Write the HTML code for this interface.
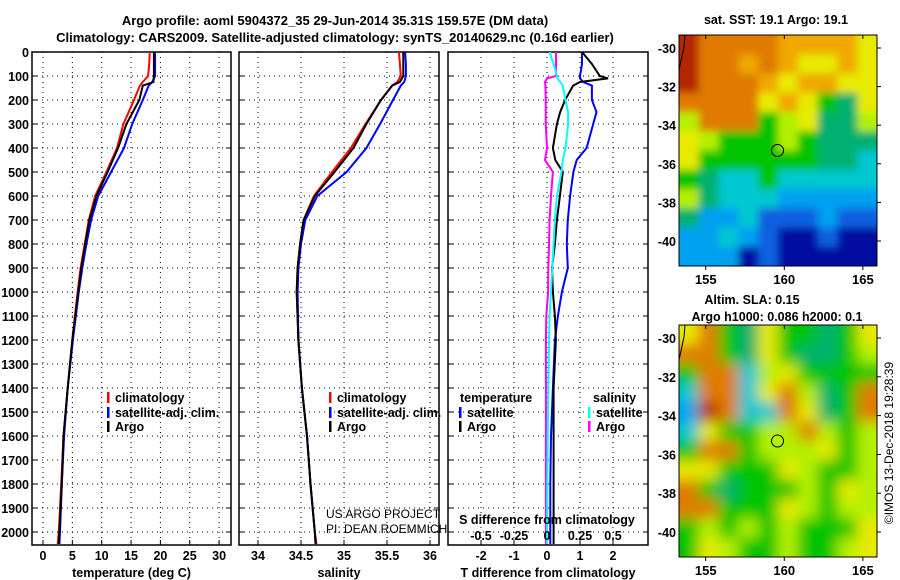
<!DOCTYPE html>
<html><head><meta charset="utf-8">
<style>
html,body{margin:0;padding:0;background:#fff;}
svg{display:block;font-family:"Liberation Sans",Arial,sans-serif;}
.t{font-weight:bold;font-size:13px;fill:#000;}
.s{font-weight:bold;font-size:12.5px;fill:#000;}
</style></head>
<body>
<svg id="fig" width="900" height="580" viewBox="0 0 900 580" xmlns="http://www.w3.org/2000/svg">
<defs>
<filter id="blurS" x="0" y="0" width="1" height="1"><feGaussianBlur stdDeviation="4"/></filter>
<filter id="blurL" x="0" y="0" width="1" height="1"><feGaussianBlur stdDeviation="7"/></filter>
<clipPath id="clipM1"><rect x="679" y="35" width="198" height="231"/></clipPath>
<clipPath id="clipM2"><rect x="679" y="325" width="198" height="232"/></clipPath>
</defs>
<text class="t" x="335" y="25" text-anchor="middle">Argo profile: aoml 5904372_35 29-Jun-2014 35.31S 159.57E (DM data)</text>
<text class="t" x="335" y="42" text-anchor="middle">Climatology: CARS2009. Satellite-adjusted climatology: synTS_20140629.nc (0.16d earlier)</text>
<g id="layer"></g>
</svg>
<script>
// ---------- data ----------
const depths = [0,50,100,125,140,200,300,400,500,600,700,800,900,1000,1200,1400,1600,1800,2000,2050];
const tempClim = [18.2,18.1,17.9,17.0,16.5,15.5,13.7,12.6,10.8,8.9,7.8,7.1,6.4,5.9,5.0,4.2,3.5,3.1,2.7,2.5];
const tempSat  = [19.1,19.1,19.1,18.6,18.0,17.0,15.2,13.8,11.6,9.4,8.2,7.4,6.7,6.1,5.1,4.2,3.6,3.2,2.9,2.8];
const tempArgo = [18.9,18.9,18.9,18.8,17.0,16.4,14.2,12.8,11.0,9.1,7.9,7.2,6.5,6.0,5.0,4.2,3.5,3.2,2.8,2.7];
const salClim = [35.64,35.65,35.66,35.62,35.56,35.43,35.25,35.08,34.86,34.65,34.53,34.49,34.46,34.45,34.47,34.51,34.57,34.61,34.66,34.68];
const salSat  = [35.71,35.72,35.72,35.70,35.66,35.57,35.42,35.26,35.03,34.69,34.55,34.50,34.47,34.46,34.47,34.51,34.57,34.61,34.66,34.67];
const salArgo = [35.69,35.69,35.69,35.65,35.56,35.43,35.26,35.11,34.89,34.66,34.53,34.49,34.46,34.45,34.47,34.51,34.57,34.61,34.66,34.67];
const diffDepths = [0,50,100,110,125,140,200,250,300,400,450,500,600,700,800,900,1000,1100,1200,1400,1600,1800,2000,2050];
const dTArgo = [1.06,1.36,1.6,1.85,1.0,0.79,0.55,0.4,0.3,0.18,0.25,0.48,0.39,0.3,0.24,0.15,0.18,0.24,0.27,0.2,0.2,0.2,0.2,0.2];
const dTSat  = [1.06,1.06,1.0,1.0,1.1,1.36,1.36,1.5,1.4,1.2,0.9,0.8,0.7,0.63,0.6,0.63,0.45,0.33,0.24,0.18,0.12,0.1,0.1,0.1];
const dSArgo = [0.068,0.068,0.068,0.0,-0.015,-0.012,-0.01,-0.01,-0.01,0.0,-0.015,0.045,0.03,0.02,0.015,0.01,0.008,-0.005,-0.008,-0.008,-0.008,-0.008,-0.008,-0.008];
const dSCyan = [0.02,0.05,0.075,0.08,0.1,0.12,0.14,0.16,0.16,0.14,0.12,0.11,0.075,0.06,0.05,0.04,0.03,0.02,0.015,0.01,0.005,0.002,0.0,0.0];
const depthTicks = [0,100,200,300,400,500,600,700,800,900,1000,1100,1200,1300,1400,1500,1600,1700,1800,1900,2000];
const tempTicks = [0,5,10,15,20,25,30];
const salTicks = [34,34.5,35,35.5,36];
const dTTicks = [-2,-1,0,1,2];
const dSTicks = [-0.5,-0.25,0,0.25,0.5];
const lonTicks = [155,160,165];
const latTicks = [-30,-32,-34,-36,-38,-40];
const argoLon = 159.57, argoLat = -35.31;
const sstGrid = [
"ROOOOooooY","ROOoOoYYoY","ROOOoYooYY","OOOOYoYGgY","yOOOGyYggy","YyGGGyGggg",
"YGGGGGGggC","GgCCGCCCCC","ygCCCBBBBB","gBBCbbbBbb","BBCBbNNbNN","BBBNbNNNNN"];
const slaGrid = [
"YOGgYGGgGY","OOGgYGggGy","GOOCyYGGGG","COOCYOygGO","BROCCOYgGO","CYGGyyOyGy",
"GOOGyyyYGy","YYGGGYyGGy","OGgGGGyGYy","OOGGGYyGyy","GyGyGyGGGY","GYyGGyGGyY"];

// ---------- helpers ----------
const NS="http://www.w3.org/2000/svg";
const layer=document.getElementById('layer');
function mk(tag,attrs,parent){const e=document.createElementNS(NS,tag);for(const k in attrs)e.setAttribute(k,attrs[k]);(parent||layer).appendChild(e);return e;}
function txt(x,y,s,cls,anchor,parent){const e=mk('text',{x:x,y:y,class:cls||'s','text-anchor':anchor||'middle'},parent);e.textContent=s;return e;}
const yD = d => 52 + d*0.24;

function panel(name,x0,x1,xs,xticks,xlabs,xtitle){
  const g=mk('g',{});
  
  
  mk('rect',{x:x0,y:52,width:x1-x0,height:493,fill:'#fff',stroke:'#000','stroke-width':1.5},g);
  depthTicks.forEach(d=>{mk('line',{x1:x0,x2:x1,y1:yD(d),y2:yD(d),stroke:'#000','stroke-dasharray':'1,4','stroke-width':1},g);
    mk('line',{x1:x0,x2:x0+5,y1:yD(d),y2:yD(d),stroke:'#000'},g);mk('line',{x1:x1-5,x2:x1,y1:yD(d),y2:yD(d),stroke:'#000'},g);});
  xticks.forEach((v,i)=>{const x=xs(v);mk('line',{x1:x,x2:x,y1:52,y2:545,stroke:'#000','stroke-dasharray':'1,4'},g);
    mk('line',{x1:x,x2:x,y1:545,y2:540,stroke:'#000'},g);
    const t=txt(x,560,xlabs[i],'s','middle',g);
    
    });
  const tt=txt((x0+x1)/2,577,xtitle,'s','middle',g);
  
  
  return g;
}
function line(g,xs,ds,vals,color,name,w){
  const pts=ds.map((d,i)=>xs(vals[i]).toFixed(1)+','+yD(d).toFixed(1)).join(' ');
  const p=mk('polyline',{points:pts,fill:'none',stroke:color,'stroke-width':w||2},g);
  
  
}
function legend(g,x,y,color,label,name){
  mk('rect',{x:x,y:y-10,width:2.5,height:11,fill:color},g);
  const t=txt(x+8,y,label,'s','start',g);
  
  
}

// depth axis labels
depthTicks.forEach(d=>{const t=txt(29,yD(d)+5,String(d),'s','end');
  
  });

// panel 1 temperature
const xT=v=>43+5.87*v;
const g1=panel('temperature-panel',32,231,xT,tempTicks,tempTicks.map(String),'temperature (deg C)');
line(g1,xT,depths,tempClim,'#f00','temp-climatology-line');
line(g1,xT,depths,tempSat,'#00f','temp-satellite-line');
line(g1,xT,depths,tempArgo,'#000','temp-argo-line');
legend(g1,107,402,'#f00','climatology','legend-climatology');
legend(g1,107,417,'#00f','satellite-adj. clim.','legend-satellite');
legend(g1,107,431,'#000','Argo','legend-argo');

// panel 2 salinity
const xS=v=>258+86*(v-34);
const g2=panel('salinity-panel',239,439,xS,salTicks,salTicks.map(String),'salinity');
line(g2,xS,depths,salClim,'#f00','sal-climatology-line');
line(g2,xS,depths,salSat,'#00f','sal-satellite-line');
line(g2,xS,depths,salArgo,'#000','sal-argo-line');
legend(g2,329,402,'#f00','climatology','legend-climatology-2');
legend(g2,329,417,'#00f','satellite-adj. clim.','legend-satellite-2');
legend(g2,329,431,'#000','Argo','legend-argo-2');
const c1=txt(326,518,'US ARGO PROJECT','s','start',g2);c1.setAttribute('style','font-weight:normal;font-size:12px');


const c2=txt(326,533,'PI: DEAN ROEMMICH','s','start',g2);c2.setAttribute('style','font-weight:normal;font-size:12px');



// panel 3 differences
const xDT=v=>547+33*v;
const xDS=v=>547+132*v;
const g3=panel('difference-panel',448,648,xDT,dTTicks,dTTicks.map(String),'T difference from climatology');
line(g3,xDS,diffDepths,dSArgo,'#f0f','sal-diff-argo-line');
line(g3,xDT,diffDepths,dTSat,'#00f','temp-diff-satellite-line');
line(g3,xDT,diffDepths,dTArgo,'#000','temp-diff-argo-line');
line(g3,xDS,diffDepths,dSCyan,'#0ff','sal-diff-satellite-line');
const lt=txt(460,402,'temperature','s','start',g3);
legend(g3,459,417,'#00f','satellite','legend-temp-satellite');
legend(g3,459,431,'#000','Argo','legend-temp-argo');
const ls=txt(593,402,'salinity','s','start',g3);
legend(g3,588,417,'#0ff','satellite','legend-sal-satellite');
legend(g3,588,431,'#f0f','Argo','legend-sal-argo');
const st=txt(547,524,'S difference from climatology','s','middle',g3);
dSTicks.forEach(v=>{const t=txt(xDS(v),540,String(v),'s','middle',g3);
  
  });

// ---------- maps ----------
const cmap={R:'#b42800',O:'#e07a00',o:'#f0a800',Y:'#e8ea00',y:'#b4f000',G:'#00c400',g:'#00b070',C:'#00c8d0',B:'#00a0f0',b:'#1060e0',N:'#0010a0'};
function map(name,y0,y1,grid,filt,clip,titles,latTop,latBot){
  const g=mk('g',{});
  
  
  const x0=679,x1=877,lonMin=153.3,lonMax=165.9;
  const lx=v=>x0+(v-lonMin)*(x1-x0)/(lonMax-lonMin);
  const lats=[latTop[0],latBot[0]],ys=[latTop[1],latBot[1]];
  const ly=v=>ys[0]+(v-lats[0])*(ys[1]-ys[0])/(lats[1]-lats[0]);
  const gc=mk('g',{'clip-path':'url(#'+clip+')'},g);
  const gi=mk('g',{filter:'url(#'+filt+')'},gc);
  mk('rect',{x:x0-20,y:y0-20,width:x1-x0+40,height:y1-y0+40,fill:cmap[grid[6][5]]},gi);
  const rows=grid.length,cols=grid[0].length,cw=(x1-x0)/cols,ch=(y1-y0)/rows;
  grid.forEach((r,i)=>{for(let j=0;j<cols;j++){mk('rect',{x:x0+j*cw-(j==0?20:0),y:y0+i*ch-(i==0?20:0),width:cw+(j==0||j==cols-1?20:0)+0.5,height:ch+(i==0||i==rows-1?20:0)+0.5,fill:cmap[r[j]]},gi);}});
  mk('polyline',{points:(x0)+','+(y0+35)+' '+(x0+5)+','+(y0+12)+' '+(x0+6)+','+y0,fill:'none',stroke:'#000','stroke-width':1},g);
  mk('rect',{x:x0,y:y0,width:x1-x0,height:y1-y0,fill:'none',stroke:'#000','stroke-width':1},g);
  lonTicks.forEach(v=>{mk('line',{x1:lx(v),x2:lx(v),y1:y0,y2:y0+4,stroke:'#000'},g);mk('line',{x1:lx(v),x2:lx(v),y1:y1,y2:y1+4,stroke:'#000'},g);
    const t=txt(lx(v),y1+18,String(v),'t','middle',g);});
  latTicks.forEach(v=>{mk('line',{x1:x1,x2:x1+4,y1:ly(v),y2:ly(v),stroke:'#000'},g);
    const t=txt(x0-3,ly(v)+5,String(v),'s','end',g);});
  const m=mk('circle',{cx:lx(argoLon),cy:ly(argoLat),r:6,fill:'none',stroke:'#000','stroke-width':1},g);
  
  
  titles.forEach(t=>{const e=txt(t[0],t[1],t[2],'s','middle',g);});
}
map('sst-map',35,266,sstGrid,'blurS','clipM1',[[776,24,'sat. SST: 19.1 Argo: 19.1','sst-map-title']],[-30,48],[-40,241]);
map('sla-map',325,557,slaGrid,'blurL','clipM2',[[752,304,'Altim. SLA: 0.15','sla-map-title'],[777,321,'Argo h1000: 0.086 h2000: 0.1','sla-map-subtitle']],[-30,338],[-40,532]);
const cr=txt(0,0,'©IMOS 13-Dec-2018 19:28:39','s','middle');
cr.setAttribute('transform','translate(893,443) rotate(-90)');
cr.setAttribute('style','font-weight:normal;font-size:12px');


</script>
</body></html>
